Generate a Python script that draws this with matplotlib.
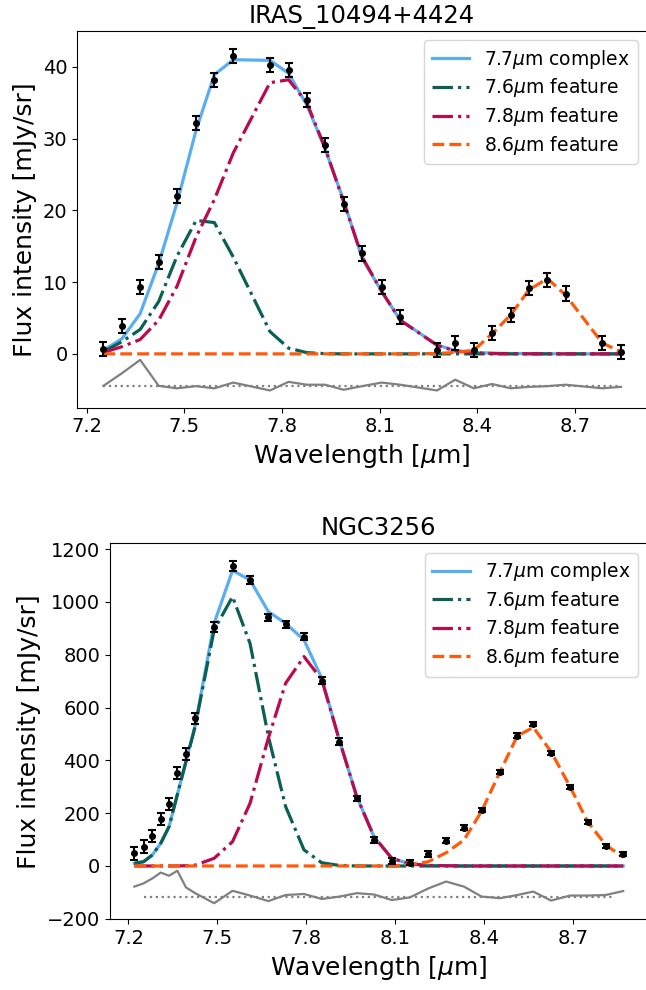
import matplotlib
matplotlib.use("Agg")
import matplotlib.pyplot as plt

# ---- IRAS_10494+4424 ----
wl_a = [7.251, 7.308, 7.364, 7.421, 7.477, 7.536, 7.592, 7.650, 7.763, 7.820,
        7.876, 7.932, 7.989, 8.046, 8.106, 8.163, 8.276, 8.332, 8.389, 8.445,
        8.502, 8.558, 8.615, 8.671, 8.784, 8.841]
flux_a = [0.7, 3.9, 9.3, 12.8, 22.0, 32.2, 38.2, 41.5, 40.3, 39.6,
          35.4, 29.1, 20.9, 14.0, 9.3, 5.1, 0.5, 1.5, 0.5, 2.9,
          5.4, 9.2, 10.3, 8.4, 1.5, 0.3]
err_a = [1.0] * len(wl_a)
complex_a = [0.5, 2.1, 5.6, 12.6, 21.0, 31.2, 38.9, 41.0, 40.9, 39.1,
             34.7, 28.6, 21.4, 13.3, 8.7, 4.7, 1.25, 0.46, 0.2, 0.1,
             0.05, 0.03, 0.02, 0.01, 0.0, 0.0]
f76_a = [0.3, 1.7, 3.4, 7.3, 13.6, 18.6, 18.3, 13.5, 3.1, 0.8,
         0.17, 0.03, 0.0, 0.0, 0.0, 0.0, 0.0, 0.0, 0.0, 0.0,
         0.0, 0.0, 0.0, 0.0, 0.0, 0.0]
f78_a = [0.2, 1.0, 2.0, 4.7, 9.4, 16.3, 21.5, 28.0, 37.8, 38.2,
         35.0, 28.7, 21.2, 13.5, 8.7, 4.7, 1.2, 0.4, 0.15, 0.05,
         0.02, 0.01, 0.0, 0.0, 0.0, 0.0]
f86_a = [0.0, 0.0, 0.0, 0.0, 0.0, 0.0, 0.0, 0.0, 0.0, 0.0,
         0.0, 0.0, 0.0, 0.0, 0.0, 0.0, 0.05, 0.2, 0.5, 2.8,
         5.4, 8.9, 10.5, 8.2, 1.5, 0.3]
resid_a = [-4.46, -2.7, -0.84, -4.46, -4.8, -4.5, -4.8, -4.0, -5.1, -3.9,
           -4.3, -4.3, -5.0, -4.5, -4.0, -4.3, -5.1, -3.6, -4.8, -4.2,
           -4.8, -4.6, -4.5, -4.3, -4.8, -4.6]
resid_zero_a = -4.46

# ---- NGC3256 ----
wl_b = [7.220, 7.251, 7.281, 7.309, 7.337, 7.365, 7.394, 7.425, 7.489, 7.551,
        7.610, 7.672, 7.730, 7.792, 7.852, 7.911, 7.970, 8.028, 8.088, 8.149,
        8.211, 8.271, 8.331, 8.391, 8.453, 8.511, 8.565, 8.625, 8.689, 8.748,
        8.809, 8.868]
flux_b = [48, 73, 114, 178, 234, 351, 424, 559, 906, 1137,
          1083, 942, 915, 869, 702, 471, 256, 98, 19, 12,
          45, 96, 145, 212, 357, 494, 538, 427, 300, 166,
          77, 44]
err_b = [25, 25, 22, 22, 22, 22, 22, 22, 18, 18,
         15, 13, 13, 13, 12, 12, 10, 10, 10, 10,
         10, 9, 9, 9, 8, 8, 8, 8, 8, 8,
         8, 8]
complex_b = [10, 16, 42, 86, 149, 270, 396, 531, 919, 1119,
             1083, 963, 919, 856, 711, 477, 262, 111, 29, 8,
             2, 1, 0, 0, 0, 0, 0, 0, 0, 0,
             0, 0]
f76_b = [10, 16, 42, 86, 149, 270, 395, 528, 894, 1020,
         843, 490, 225, 61, 12, 2, 0, 0, 0, 0,
         0, 0, 0, 0, 0, 0, 0, 0, 0, 0,
         0, 0]
f78_b = [0, 0, 0, 0, 0, 0, 1, 3, 29, 92,
         237, 485, 692, 793, 705, 477, 262, 111, 29, 8,
         2, 1, 0, 0, 0, 0, 0, 0, 0, 0,
         0, 0]
f86_b = [0, 0, 0, 0, 0, 0, 0, 0, 0, 0,
         0, 0, 0, 0, 0, 0, 0, 0, 0, 5,
         16, 50, 98, 208, 357, 492, 525, 433, 300, 168,
         80, 33]
resid_b = [-78, -66, -47, -25, -37, -18, -81, -103, -141, -94,
           -112, -133, -110, -106, -125, -116, -103, -108, -129, -119,
           -85, -59, -78, -116, -122, -110, -97, -131, -112, -112,
           -110, -95]
resid_zero_b = -118

resid_span = (7.251, 8.841)
xticks = [7.2, 7.5, 7.8, 8.1, 8.4, 8.7]

c_complex = '#5aaef0'
c_76 = '#0a6055'
c_78 = '#bb0a4e'
c_86 = '#ff5a0a'
lw = 2.3

fig = plt.figure(figsize=(6.46, 9.9), dpi=100)
ax1 = fig.add_axes([0.1197, 0.5882, 0.8818, 0.3805])
ax2 = fig.add_axes([0.1703, 0.0714, 0.8320, 0.3798])


def draw(ax, wl, flux, err, cplx, f76, f78, f86, resid, rzero, title):
    ax.plot(wl, cplx, color=c_complex, lw=lw, label=r'7.7$\mu$m complex')
    ax.plot(wl, f76, color=c_76, lw=lw, ls='-.', label=r'7.6$\mu$m feature')
    ax.plot(wl, f78, color=c_78, lw=lw, ls='-.', label=r'7.8$\mu$m feature')
    ax.plot(wl, f86, color=c_86, lw=lw, ls='--', label=r'8.6$\mu$m feature')
    ax.errorbar(wl, flux, yerr=err, fmt='o', color='k', ms=4,
                elinewidth=1.5, capsize=3, capthick=1.5, zorder=5)
    ax.plot(wl, resid, color='gray', lw=1.6)
    ax.hlines(rzero, resid_span[0], resid_span[1], color='gray',
              linestyles=':', lw=1.6)
    ax.set_title(title, fontsize=17.5)
    ax.set_xlabel(r'Wavelength [$\mu$m]', fontsize=18)
    ax.set_ylabel('Flux intensity [mJy/sr]', fontsize=18)
    ax.set_xticks(xticks)
    ax.tick_params(labelsize=14)
    ax.legend(loc='upper right', fontsize=13.5, labelspacing=0.3)


draw(ax1, wl_a, flux_a, err_a, complex_a, f76_a, f78_a, f86_a,
     resid_a, resid_zero_a, 'IRAS_10494+4424')
ax1.set_xlim(7.171, 8.921)
ax1.set_ylim(-7.5, 45.0)

draw(ax2, wl_b, flux_b, err_b, complex_b, f76_b, f78_b, f86_b,
     resid_b, resid_zero_b, 'NGC3256')
ax2.set_xlim(7.138, 8.950)
ax2.set_ylim(-202, 1222)

fig.savefig('out.png', dpi=100)
